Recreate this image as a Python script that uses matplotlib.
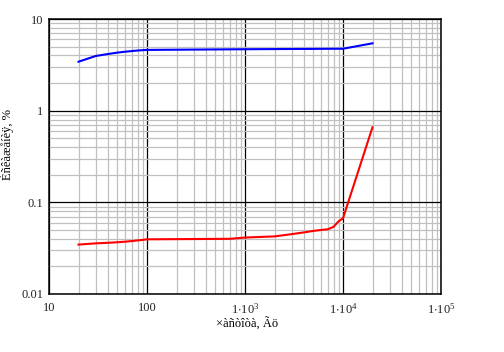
import matplotlib
matplotlib.use('Agg')
import matplotlib.pyplot as plt
from matplotlib.ticker import LogLocator, FixedLocator, NullFormatter

plt.rcParams['font.family'] = ['Liberation Serif', 'DejaVu Serif']
plt.rcParams['mathtext.fontset'] = 'custom'
plt.rcParams['mathtext.rm'] = 'Liberation Serif'

# data
freq_blue = [20, 30, 40, 50, 60, 70, 80, 90, 100, 1000, 10000, 20000]
dist_blue = [3.42, 3.95, 4.15, 4.3, 4.4, 4.47, 4.53, 4.57, 4.6, 4.68, 4.74, 5.43]

freq_red = [20, 30, 40, 50, 60, 70, 80, 90, 100, 700, 1000, 2000,
            3000, 4000, 5000, 6000, 7000, 8000, 9000, 10000, 20000]
dist_red = [0.0346, 0.0357, 0.0362, 0.0367, 0.0372, 0.0378, 0.0384, 0.0389, 0.0395,
            0.0400, 0.0413, 0.0425, 0.0450, 0.0470, 0.0488, 0.0500, 0.0508,
            0.0540, 0.0620, 0.0670, 0.659]

x_ticks = [10, 100, 1000, 10000, 100000]
x_labels = ['10', '100', r'$\mathregular{1{\cdot}10^{3}}$',
            r'$\mathregular{1{\cdot}10^{4}}$', r'$\mathregular{1{\cdot}10^{5}}$']
y_ticks = [0.01, 0.1, 1, 10]
y_labels = ['0.01', '0.1', '1', '10']

fig = plt.figure(figsize=(5.04, 3.52), dpi=100)
ax = fig.add_axes([49/504, 1 - 294/352, 392/504, 275/352])

ax.set_xscale('log')
ax.set_yscale('log')
ax.set_xlim(10, 100000)
ax.set_ylim(0.01, 10)

ax.xaxis.set_major_locator(FixedLocator(x_ticks))
ax.yaxis.set_major_locator(FixedLocator(y_ticks))
ax.xaxis.set_minor_locator(LogLocator(base=10, subs=range(2, 10), numticks=20))
ax.yaxis.set_minor_locator(LogLocator(base=10, subs=range(2, 10), numticks=20))
ax.xaxis.set_minor_formatter(NullFormatter())
ax.yaxis.set_minor_formatter(NullFormatter())
ax.set_xticklabels(x_labels)
ax.set_yticklabels(y_labels)

ax.grid(which='minor', color='#c0c0c0', lw=0.9)
ax.grid(which='major', color='black', lw=0.9)
ax.set_axisbelow(True)
ax.tick_params(which='both', length=0, labelsize=9, colors='#222222')
ax.tick_params(axis='x', pad=6)
ax.tick_params(axis='y', pad=4)
for s in ax.spines.values():
    s.set_linewidth(1.1)
    s.set_color('black')

ax.plot(freq_blue, dist_blue, color='#0000ff', lw=1.5)
ax.plot(freq_red, dist_red, color='#ff0000', lw=1.5)

ax.set_xlabel('×àñòîòà, Ãö', fontsize=9)
ax.set_ylabel('Èñêàæåíèÿ, %', fontsize=9)
ax.xaxis.set_label_coords(0.504, -0.087)
ax.yaxis.set_label_coords(-0.09, 0.545)

fig.savefig('out.png', dpi=100)
